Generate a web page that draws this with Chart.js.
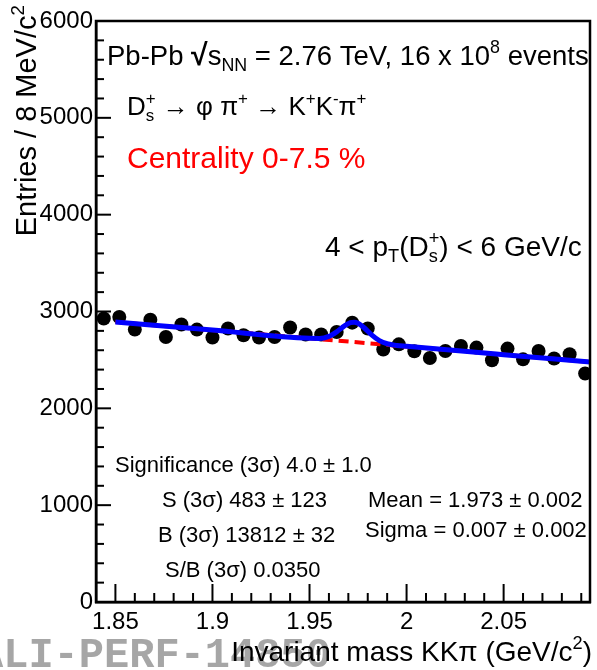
<!DOCTYPE html>
<html><head><meta charset="utf-8">
<script src="https://cdn.jsdelivr.net/npm/chart.js@4.4.0/dist/chart.umd.min.js"></script>
<style>html,body{margin:0;padding:0;background:#fff;}#wrap{position:relative;width:597px;height:670px;}</style>
</head><body><div id="wrap"><canvas id="c" width="597" height="670"></canvas></div>
<script>
// ---- data ----
const massBins = [1.844,1.852,1.860,1.868,1.876,1.884,1.892,1.900,1.908,1.916,1.924,1.932,1.940,1.948,1.956,1.964,
                  1.972,1.980,1.988,1.996,2.004,2.012,2.020,2.028,2.036,2.044,2.052,2.060,2.068,2.076,2.084,2.092];
const entries  = [2927,2943,2813,2916,2737,2865,2813,2731,2824,2754,2731,2737,2834,2762,2762,2788,
                  2885,2824,2607,2661,2589,2520,2592,2644,2627,2496,2617,2506,2592,2514,2558,2359];
const fitMass  = [1.850,1.900,1.950,1.955,1.960,1.964,1.968,1.971,1.973,1.975,1.978,1.982,1.986,1.990,1.995,2.000,2.050,2.0945];
const fitTotal = [2892,2808,2723,2722,2743,2790,2852,2885,2889,2878,2835,2759,2699,2667,2649,2640,2554,2479];
const bkgMass  = [1.850,2.0945];
const bkgValue = [2892,2479];
const xTickValues = [1.85,1.9,1.95,2,2.05];
const xTickLabels = ['1.85','1.9','1.95','2','2.05'];
const yTickValues = [0,1000,2000,3000,4000,5000,6000];
const yTickLabels = ['0','1000','2000','3000','4000','5000','6000'];

const FAM = '"Liberation Sans", Arial, Helvetica, sans-serif';

function drawRich(ctx, x, y, parts, size, color, measureOnly) {
  const sm = size * 0.65;
  let cx = x;
  ctx.fillStyle = color;
  ctx.textAlign = 'left';
  ctx.textBaseline = 'alphabetic';
  for (const p of parts) {
    if (p.t !== undefined) {
      ctx.font = (p.bold ? 'bold ' : '') + (p.scale ? size * p.scale : size) + 'px ' + FAM;
      if (!measureOnly) ctx.fillText(p.t, cx, y);
      cx += ctx.measureText(p.t).width;
    } else {
      ctx.font = sm + 'px ' + FAM;
      let w = 0;
      if (p.sup) { if (!measureOnly) ctx.fillText(p.sup, cx, y - size * 0.42); w = Math.max(w, ctx.measureText(p.sup).width); }
      if (p.sub) { if (!measureOnly) ctx.fillText(p.sub, cx, y + size * 0.22); w = Math.max(w, ctx.measureText(p.sub).width); }
      cx += w;
    }
  }
  return cx - x;
}

const rootDecor = {
  id: 'rootDecor',
  afterDraw(chart) {
    const ctx = chart.ctx;
    const xs = chart.scales.x, ys = chart.scales.y;
    const a = chart.chartArea;
    ctx.save();
    // frame
    ctx.strokeStyle = '#000';
    ctx.lineWidth = 2.5;
    ctx.strokeRect(a.left, a.top, a.right - a.left, a.bottom - a.top);
    // y ticks (inside)
    ctx.lineWidth = 2;
    for (let v = 0; v <= 6000; v += 200) {
      const py = ys.getPixelForValue(v);
      const len = (v % 1000 === 0) ? 15 : 8;
      ctx.beginPath(); ctx.moveTo(a.left, py); ctx.lineTo(a.left + len, py); ctx.stroke();
    }
    // x ticks (inside)
    for (let i = 185; i <= 209; i++) {
      const v = i / 100;
      const px = xs.getPixelForValue(v);
      const len = (i % 5 === 0) ? 18 : 9;
      ctx.beginPath(); ctx.moveTo(px, a.bottom); ctx.lineTo(px, a.bottom - len); ctx.stroke();
    }
    // watermark
    ctx.font = 'bold 42px "Liberation Mono", "DejaVu Sans Mono", monospace';
    ctx.fillStyle = 'rgba(150,150,150,0.85)';
    ctx.textAlign = 'left'; ctx.textBaseline = 'alphabetic';
    ctx.fillText('ALI-PERF-14850', -22, 667);
    // axis titles
    ctx.fillStyle = '#000';
    const xt = [{t:'Invariant mass KK\u03c0 (GeV/c'},{sup:'2'},{t:')'}];
    const wx = drawRich(ctx, 0, 0, xt, 28, '#000', true);
    drawRich(ctx, 592 - wx, 661, xt, 28, '#000');
    ctx.save();
    ctx.translate(36, 5);
    ctx.rotate(-Math.PI / 2);
    const yt = [{t:'Entries / 8 MeV/c'},{sup:'2'}];
    const wy = drawRich(ctx, 0, 0, yt, 29, '#000', true);
    drawRich(ctx, -wy, 0, yt, 29, '#000');
    ctx.restore();
    // annotations
    drawRich(ctx, 107, 65, [{t:'Pb-Pb '},{t:'\u221a', bold:true, scale:1.1},{t:'s'},{sub:'NN'},{t:' = 2.76 TeV, 16 x 10'},{sup:'8'},{t:' events'}], 27.5, '#000');
    drawRich(ctx, 127, 115, [{t:'D'},{sub:'s',sup:'+'},{t:' \u2192 \u03c6 \u03c0'},{sup:'+'},{t:' \u2192 K'},{sup:'+'},{t:'K'},{sup:'-'},{t:'\u03c0'},{sup:'+'}], 26, '#000');
    drawRich(ctx, 127, 168, [{t:'Centrality 0-7.5 %'}], 30, '#ff0000');
    drawRich(ctx, 325, 256, [{t:'4 < p'},{sub:'T'},{t:'(D'},{sub:'s',sup:'+'},{t:') < 6 GeV/c'}], 28, '#000');
    const s = 22;
    drawRich(ctx, 115, 472, [{t:'Significance (3\u03c3) 4.0 \u00b1 1.0'}], s, '#000');
    drawRich(ctx, 162, 507, [{t:'S (3\u03c3) 483 \u00b1 123'}], s, '#000');
    drawRich(ctx, 368, 507, [{t:'Mean = 1.973 \u00b1 0.002'}], s, '#000');
    drawRich(ctx, 158, 542, [{t:'B (3\u03c3) 13812 \u00b1 32'}], s, '#000');
    drawRich(ctx, 365, 537, [{t:'Sigma = 0.007 \u00b1 0.002'}], s, '#000');
    drawRich(ctx, 165, 577, [{t:'S/B (3\u03c3) 0.0350'}], s, '#000');
    ctx.restore();
  }
};

new Chart(document.getElementById('c'), {
  type: 'scatter',
  data: {
    datasets: [
      { type: 'line', label: 'Total fit', data: fitMass.map((m, i) => ({x: m, y: fitTotal[i]})),
        borderColor: '#0000ff', borderWidth: 5, pointRadius: 0, fill: false, cubicInterpolationMode: 'monotone' },
      { type: 'line', label: 'Background', data: bkgMass.map((m, i) => ({x: m, y: bkgValue[i]})),
        borderColor: '#ff0000', borderWidth: 4, borderDash: [10, 6], pointRadius: 0, fill: false },
      { label: 'Data', data: massBins.map((m, i) => ({x: m, y: entries[i]})),
        backgroundColor: '#000', borderColor: '#000', pointRadius: 7, pointBorderWidth: 0, showLine: false }
    ]
  },
  options: {
    responsive: false, animation: false, devicePixelRatio: 1,
    layout: { padding: { left: 0, right: 5, top: 21, bottom: 0 } },
    plugins: { legend: { display: false }, tooltip: { enabled: false } },
    scales: {
      x: {
        type: 'linear', min: 1.84, max: 2.0945,
        grid: { display: false, drawTicks: false },
        border: { display: true, color: '#000', width: 2.5 },
        afterBuildTicks: sc => { sc.ticks = xTickValues.map(v => ({value: v})); },
        afterFit: sc => { sc.height = 68; },
        ticks: { color: '#000', font: { family: FAM, size: 24 }, padding: 6, maxRotation: 0, autoSkip: false,
                 callback: v => xTickLabels[xTickValues.indexOf(v)] }
      },
      y: {
        type: 'linear', min: 0, max: 6000,
        grid: { display: false, drawTicks: false },
        border: { display: true, color: '#000', width: 2.5 },
        afterBuildTicks: sc => { sc.ticks = yTickValues.map(v => ({value: v})); },
        afterFit: sc => { sc.width = 96; },
        ticks: { color: '#000', font: { family: FAM, size: 24 }, padding: 3,
                 callback: v => yTickLabels[yTickValues.indexOf(v)] }
      }
    }
  },
  plugins: [rootDecor]
});
</script></body></html>
